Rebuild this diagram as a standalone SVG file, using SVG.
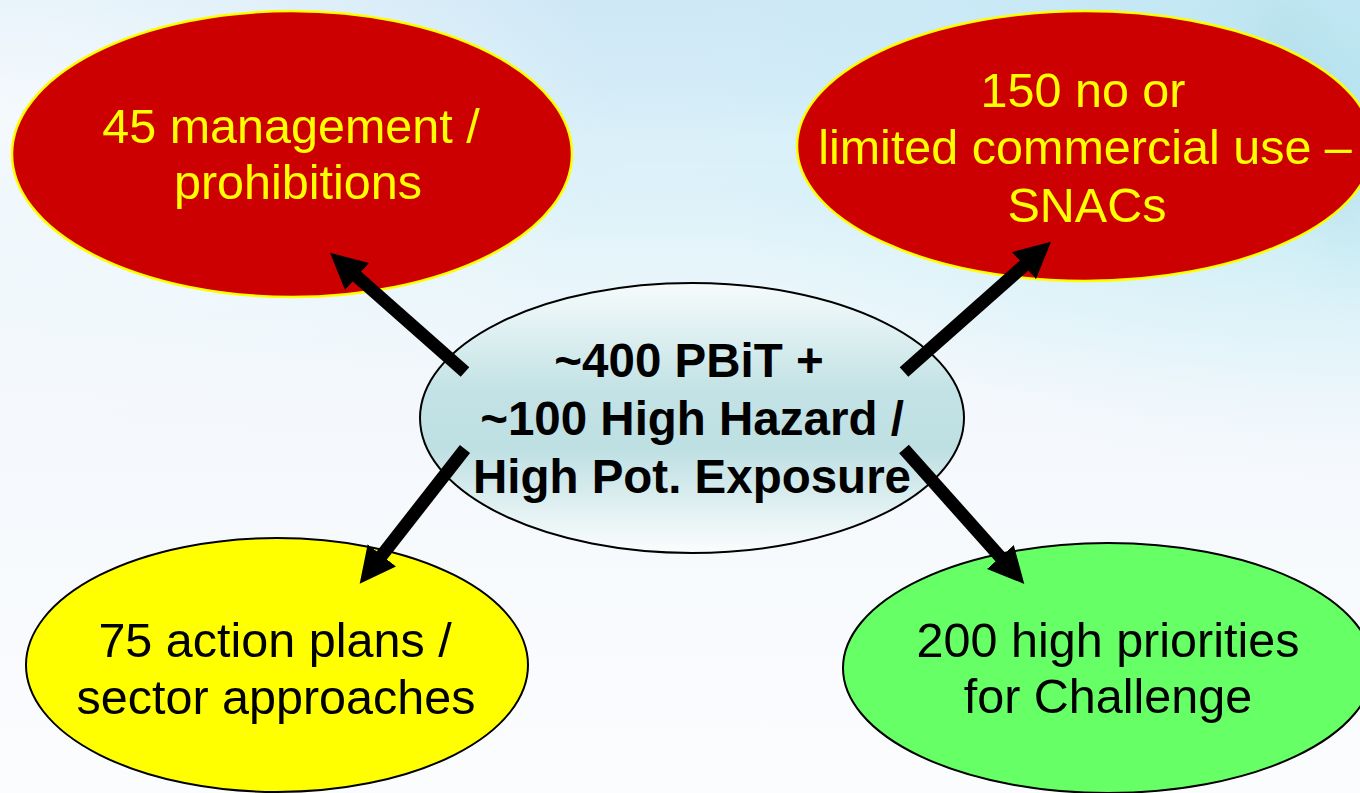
<svg xmlns="http://www.w3.org/2000/svg" width="1360" height="793" viewBox="0 0 1360 793">
  <defs>
    <linearGradient id="bgV" x1="0" y1="0" x2="0" y2="1">
      <stop offset="0" stop-color="#cfe8f6"/>
      <stop offset="0.2" stop-color="#d6eef8"/>
      <stop offset="0.33" stop-color="#e6f5fa"/>
      <stop offset="0.5" stop-color="#f4f8fc"/>
      <stop offset="1" stop-color="#fbfcfe"/>
    </linearGradient>
    <radialGradient id="bgTL" cx="0" cy="0.15" r="0.45">
      <stop offset="0" stop-color="#f7fafd" stop-opacity="0.95"/>
      <stop offset="1" stop-color="#f7fafd" stop-opacity="0"/>
    </radialGradient>
    <radialGradient id="bgTR" cx="1" cy="0.1" r="0.5">
      <stop offset="0" stop-color="#b4e4ef" stop-opacity="0.8"/>
      <stop offset="1" stop-color="#c6eef8" stop-opacity="0"/>
    </radialGradient>
    <linearGradient id="centerFill" x1="0" y1="0" x2="0" y2="1">
      <stop offset="0" stop-color="#f6fbfb"/>
      <stop offset="0.4" stop-color="#c2e2e5"/>
      <stop offset="0.62" stop-color="#bfe0e3"/>
      <stop offset="1" stop-color="#fbfdfd"/>
    </linearGradient>
    <filter id="blur" x="-50%" y="-50%" width="200%" height="200%">
      <feGaussianBlur stdDeviation="25"/>
    </filter>
    <marker id="head" markerUnits="userSpaceOnUse" markerWidth="36" markerHeight="36" viewBox="0 0 36 36" refX="16" refY="18" orient="auto">
      <path d="M0,0 L36,18 L0,36 z" fill="#000"/>
    </marker>
    <style>
      .red { fill: #cc0000; stroke: #ffff00; stroke-width: 2.5; }
      .yel { fill: #ffff00; stroke: #000; stroke-width: 2; }
      .grn { fill: #66ff66; stroke: #000; stroke-width: 2; }
      .ctr { fill: url(#centerFill); stroke: #000; stroke-width: 2; }
      .t { font-family: "Liberation Sans", Arial, sans-serif; font-size: 48.5px; text-anchor: middle; }
      .ty { fill: #ffff00; }
      .tb { fill: #000; }
      .bold { font-weight: bold; font-size: 47.5px; }
      .conn { stroke: #000; stroke-width: 13; fill: none; marker-end: url(#head); }
    </style>
  </defs>

  <!-- background -->
  <rect x="0" y="0" width="1360" height="793" fill="url(#bgV)"/>
  <rect x="0" y="0" width="1360" height="793" fill="url(#bgTL)"/>
  <rect x="0" y="0" width="1360" height="793" fill="url(#bgTR)"/>
  <g filter="url(#blur)" opacity="0.4">
    <path d="M1250,0 L1300,0 L1360,160 L1360,300 Z" fill="#a8d6df"/>
    <rect x="560" y="130" width="420" height="40" fill="#eefafd"/>
  </g>

  <g id="node-management">
    <ellipse class="red" cx="292" cy="154" rx="280" ry="143"/>
    <text class="t ty" x="291" y="143">45 management /</text>
    <text class="t ty" x="298" y="199">prohibitions</text>
  </g>

  <g id="node-snacs">
    <ellipse class="red" cx="1085" cy="146" rx="288" ry="135"/>
    <text class="t ty" x="1083" y="107">150 no or</text>
    <text class="t ty" x="1085" y="164">limited commercial use –</text>
    <text class="t ty" x="1087" y="222">SNACs</text>
  </g>

  <g id="node-action">
    <ellipse class="yel" cx="277" cy="665" rx="251" ry="127"/>
    <text class="t tb" x="275" y="657">75 action plans /</text>
    <text class="t tb" x="276" y="714">sector approaches</text>
  </g>

  <g id="node-challenge">
    <ellipse class="grn" cx="1108" cy="668" rx="265" ry="125"/>
    <text class="t tb" x="1108" y="657">200 high priorities</text>
    <text class="t tb" x="1108" y="713">for Challenge</text>
  </g>

  <g id="node-center">
    <ellipse class="ctr" cx="692" cy="418" rx="272" ry="135"/>
    <text class="t tb bold" x="689" y="377">~400 PBiT +</text>
    <text class="t tb bold" x="692" y="435">~100 High Hazard /</text>
    <text class="t tb bold" x="692" y="493">High Pot. Exposure</text>
  </g>

  <!-- connectors -->
  <g id="connectors">
    <line class="conn" x1="465" y1="372" x2="345" y2="266"/>
    <line class="conn" x1="904" y1="372" x2="1036" y2="255"/>
    <line class="conn" x1="465" y1="449" x2="372" y2="568"/>
    <line class="conn" x1="904" y1="449" x2="1011" y2="569"/>
  </g>
</svg>
